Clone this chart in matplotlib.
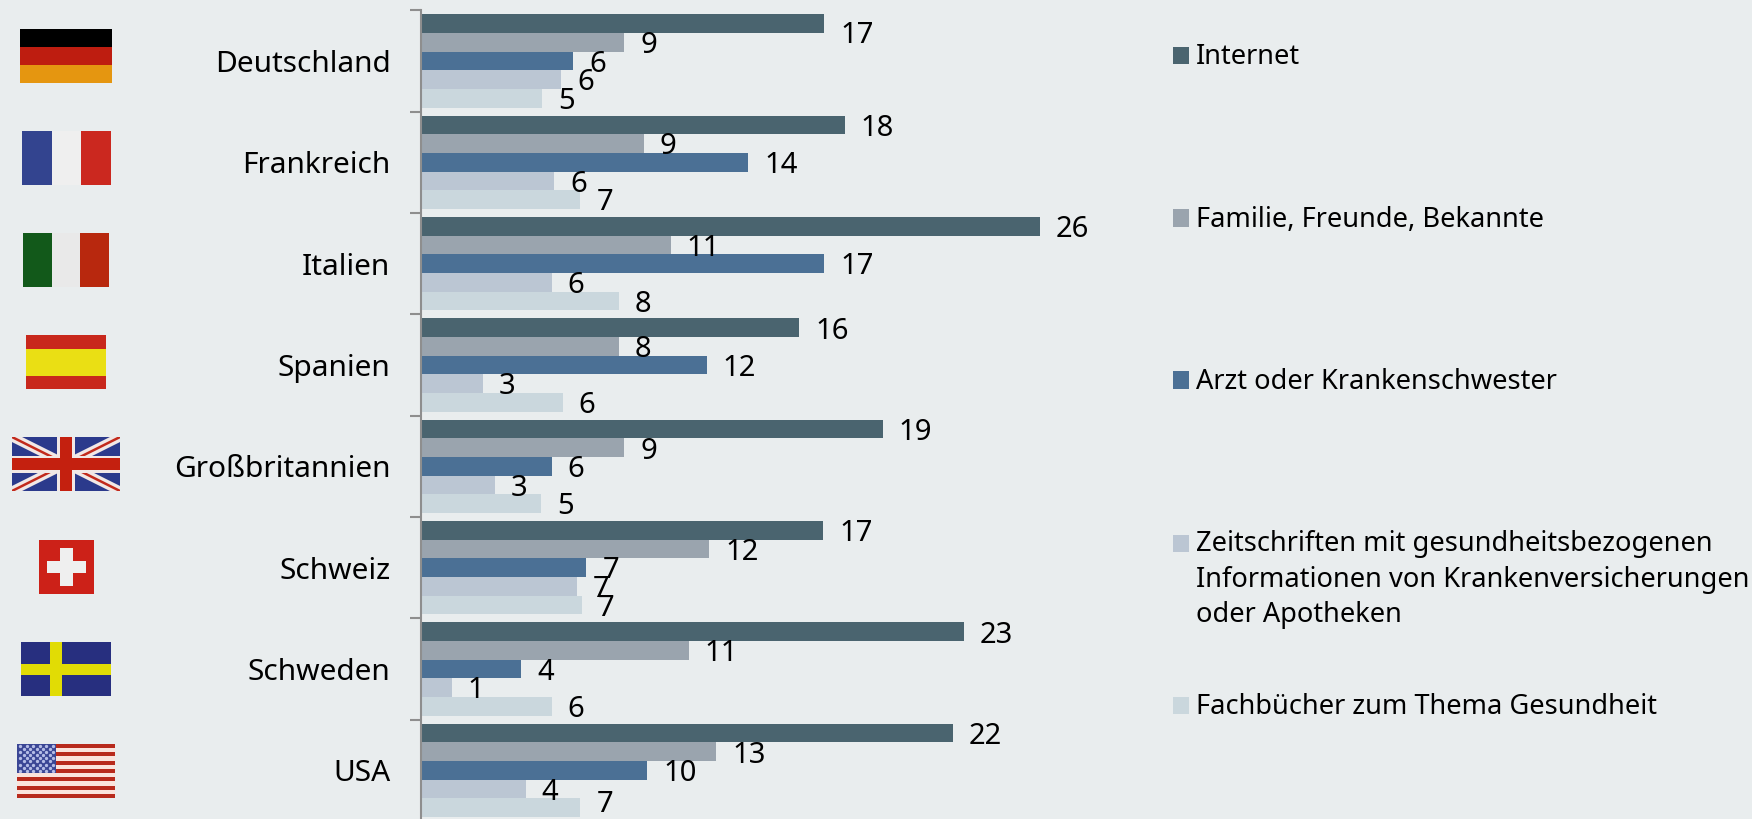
import matplotlib
matplotlib.use("Agg")
import matplotlib.pyplot as plt
from matplotlib.patches import Rectangle

W, H = 1752, 819
BG = "#E9EDEE"
FONT = "Noto Sans"

countries = ["Deutschland", "Frankreich", "Italien", "Spanien",
             "Großbritannien", "Schweiz", "Schweden", "USA"]
series_names = ["Internet", "Familie, Freunde, Bekannte", "Arzt oder Krankenschwester",
                "Zeitschriften mit gesundheitsbezogenen\nInformationen von Krankenversicherungen\noder Apotheken",
                "Fachbücher zum Thema Gesundheit"]
colors = ["#4A646F", "#9AA4AE", "#4B7095", "#BBC6D3", "#CAD7DD"]

internet = [16.95, 17.8, 26.0, 15.9, 19.4, 16.9, 22.8, 22.35]
familie = [8.55, 9.35, 10.5, 8.3, 8.55, 12.1, 11.25, 12.4]
arzt = [6.4, 13.75, 16.95, 12.0, 5.5, 6.95, 4.2, 9.5]
zeitschriften = [5.9, 5.6, 5.5, 2.6, 3.1, 6.55, 1.3, 4.4]
fachbuecher = [5.1, 6.7, 8.3, 5.95, 5.05, 6.75, 5.5, 6.7]

internet_labels = [17, 18, 26, 16, 19, 17, 23, 22]
familie_labels = [9, 9, 11, 8, 9, 12, 11, 13]
arzt_labels = [6, 14, 17, 12, 6, 7, 4, 10]
zeitschriften_labels = [6, 6, 6, 3, 3, 7, 1, 4]
fachbuecher_labels = [5, 7, 8, 6, 5, 7, 6, 7]

series = [internet, familie, arzt, zeitschriften, fachbuecher]
labels = [internet_labels, familie_labels, arzt_labels, zeitschriften_labels, fachbuecher_labels]

plt.rcParams["font.family"] = FONT
fig = plt.figure(figsize=(W / 100, H / 100), dpi=100, facecolor=BG)


def box(x0, y0, x1, y1):
    """Axes rectangle from pixel edges measured from the top left."""
    return [x0 / W, 1 - y1 / H, (x1 - x0) / W, (y1 - y0) / H]


# ---- main bars
ax = fig.add_axes(box(421, 10.3, W, 821))
ax.set_facecolor("none")
ax.set_xlim(0, (W - 421) / 23.8)
ax.set_ylim(len(countries), 0)
bar_h = 0.184
for s, (vals, c) in enumerate(zip(series, colors)):
    ys = [i + 0.5 + (s - 2) * bar_h for i in range(len(countries))]
    ax.barh(ys, vals, height=bar_h, color=c, linewidth=0)
    for i, (y, v, lab) in enumerate(zip(ys, vals, labels[s])):
        nudge = -2.4
        if i == 0 and s == 0:
            nudge = -8.5
        elif i == 7 and s == 4:
            nudge = 2.5
        ax.annotate(str(lab), (v, y), xytext=(11.5, nudge), textcoords="offset points",
                    ha="left", va="center", fontsize=21, color="black")

for sp in ["top", "right", "bottom"]:
    ax.spines[sp].set_visible(False)
ax.spines["left"].set_color("#8E8E8E")
ax.spines["left"].set_linewidth(1.5)
ax.xaxis.set_visible(False)
ax.set_yticks(range(len(countries) + 1))
ax.set_yticklabels([])
ax.tick_params(axis="y", which="major", length=8, width=1.5, color="#8E8E8E")
ax.set_yticks([i + 0.5 for i in range(len(countries))], minor=True)
ax.set_yticklabels(countries, minor=True, fontsize=21.5, color="black")
ax.tick_params(axis="y", which="minor", length=0, pad=22)

# ---- legend
legend_y = [55.5, 218, 380, 543, 705]
for name, c, y in zip(series_names, colors, legend_y):
    fig.add_artist(Rectangle((1173 / W, 1 - (y + 8.5) / H), 16 / W, 17 / H,
                             transform=fig.transFigure, facecolor=c, edgecolor="none"))
    multi = "\n" in name
    fig.text(1196 / W, 1 - (y - 12.5) / H if multi else 1 - (y + 2) / H, name,
             fontsize=19.6, color="black", ha="left",
             va="top" if multi else "center", linespacing=1.345)


# ---- flags
def flag(x0, y0, x1, y1):
    a = fig.add_axes(box(x0, y0, x1, y1))
    a.set_xlim(0, 1)
    a.set_ylim(1, 0)
    a.axis("off")
    return a


def rect(a, x, y, w, h, c):
    a.add_patch(Rectangle((x, y), w, h, facecolor=c, edgecolor="none", zorder=3))


def vertical(a, cols):
    for i, c in enumerate(cols):
        rect(a, i / 3, 0, 1 / 3 + 0.002, 1, c)


a = flag(20, 29, 112, 83)
for i, c in enumerate(["#000000", "#BE1D10", "#E59610"]):
    rect(a, 0, i / 3, 1, 1 / 3 + 0.002, c)

vertical(flag(22, 131, 111, 185), ["#33448F", "#EFEFEF", "#CB281F"])
vertical(flag(23, 233, 109, 287), ["#12591A", "#E9E9E9", "#B8280E"])

a = flag(26, 335, 106, 389)
rect(a, 0, 0, 1, 1, "#C8281C")
rect(a, 0, 0.25, 1, 0.5, "#EADF14")

a = flag(12, 437, 120, 491)
a.set_facecolor("#2B3A8C")
a.axis("on")
a.set_xticks([])
a.set_yticks([])
for sp in a.spines.values():
    sp.set_visible(False)
for ys_ in [(0, 1), (1, 0)]:
    a.plot([0, 1], ys_, color="#F1E8E6", lw=6.5, solid_capstyle="butt", zorder=1)
    a.plot([0, 1], ys_, color="#C22A1C", lw=1.8, solid_capstyle="butt", zorder=2)
rect(a, 0.42, 0, 0.16, 1, "#F1E8E6")
rect(a, 0, 0.345, 1, 0.325, "#F1E8E6")
rect(a, 0.445, 0, 0.11, 1, "#C4200F")
rect(a, 0, 0.395, 1, 0.215, "#C4200F")

a = flag(39, 540, 94, 594)
rect(a, 0, 0, 1, 1, "#CC2118")
rect(a, 0.39, 0.15, 0.22, 0.70, "#EFEFEF")
rect(a, 0.14, 0.39, 0.72, 0.22, "#EFEFEF")

a = flag(21, 642, 111, 696)
rect(a, 0, 0, 1, 1, "#272F7F")
rect(a, 0.32, 0, 0.13, 1, "#E1DC05")
rect(a, 0, 0.41, 1, 0.2, "#E1DC05")

a = flag(17, 744, 115, 798)
stripes = 13
for i in range(stripes):
    rect(a, 0, i / stripes, 1, 1 / stripes + 0.002, "#B82A1C" if i % 2 == 0 else "#FBE3DC")
rect(a, 0, 0, 0.40, 7 / 13, "#3A4695")
for r in range(9):
    cols = 6 if r % 2 == 0 else 5
    off = 0.5 if r % 2 == 0 else 1.0
    for q in range(cols):
        a.plot((q + off) / 6 * 0.40, (r + 0.6) / 9 * 0.52, "o", ms=2.4, mew=0,
               color="#B4BCE6", zorder=4)

fig.savefig("out.png", dpi=100, facecolor=BG)
